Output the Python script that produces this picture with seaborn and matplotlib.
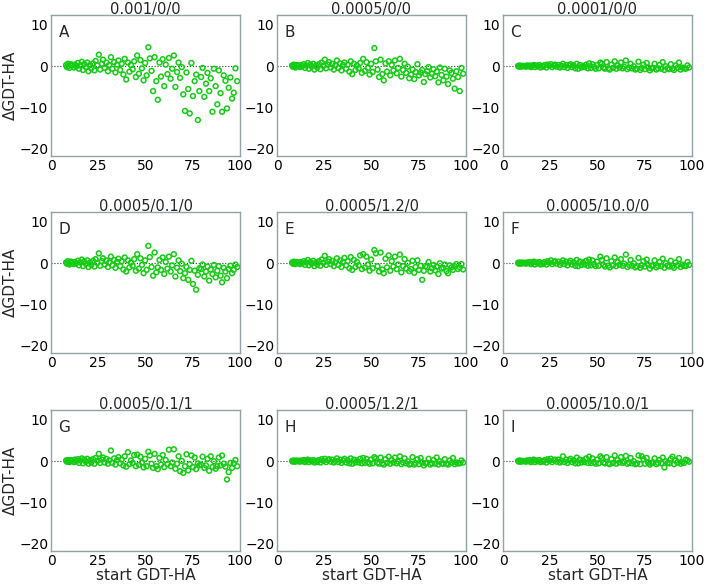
import numpy as np
import pandas as pd
import seaborn as sns
import matplotlib.pyplot as plt

# start GDT-HA of the models (same set in every panel)
start_gdt = [8.0, 8.4, 8.9, 9.3, 9.7, 10.5, 11.3, 12.1, 12.6, 13.4,
             14.2, 14.8, 15.5, 16.3, 16.9, 17.6, 18.4, 19.2, 19.8, 20.7,
             21.3, 22.2, 23.0, 23.6, 24.5, 25.3, 26.0, 26.9, 27.5, 28.4,
             29.3, 30.1, 30.8, 31.7, 32.5, 33.4, 34.1, 35.0, 35.7, 36.6,
             37.4, 38.3, 39.0, 39.8, 40.7, 41.5, 42.3, 43.2, 44.0, 44.9,
             45.6, 46.5, 47.3, 48.1, 49.0, 49.8, 50.6, 51.5, 52.3, 53.2,
             54.0, 54.8, 55.7, 56.5, 57.4, 58.2, 59.1, 59.9, 60.7, 61.6,
             62.4, 63.3, 64.1, 65.0, 65.8, 66.7, 67.5, 68.3, 69.2, 70.0,
             70.9, 71.7, 72.6, 73.4, 74.3, 75.1, 76.0, 76.8, 77.7, 78.5,
             79.4, 80.2, 81.1, 82.0, 82.8, 83.7, 84.5, 85.4, 86.2, 87.1,
             88.0, 88.8, 89.7, 90.5, 91.4, 92.3, 93.1, 94.0, 94.9, 95.8,
             96.7, 97.6, 98.5]

titles = ["0.001/0/0", "0.0005/0/0", "0.0001/0/0",
          "0.0005/0.1/0", "0.0005/1.2/0", "0.0005/10.0/0",
          "0.0005/0.1/1", "0.0005/1.2/1", "0.0005/10.0/1"]
letters = ["A", "B", "C", "D", "E", "F", "G", "H", "I"]

dA = [0.3, -0.2, 0.6, 0.1, -0.4, 0.5, 0.2, -0.3, 0.4, 0.0,
      0.8, -0.6, 0.2, 1.1, -0.9, 0.5, -0.2, 0.9, -1.2, 0.3,
      -0.5, 0.7, -1.0, 1.3, 0.2, 2.8, -0.8, 0.6, 1.6, -0.4,
      0.9, -1.2, 0.3, 2.2, -0.6, 1.0, -1.5, 0.4, 1.4, -0.9,
      0.6, -2.0, 1.8, -3.2, 0.9, -1.3, 0.3, -0.7, 1.2, -2.6,
      2.6, -1.8, 1.5, -0.5, -3.4, 0.8, -2.2, 4.6, 1.9, -1.1,
      -6.0, 2.2, -3.6, -8.1, 0.9, -2.5, 1.7, -4.8, 0.4, -1.9,
      2.0, -3.0, -0.6, 2.6, -5.0, -1.4, 0.9, -2.8, -0.2, -6.8,
      -10.8, -1.5, -5.5, -11.4, 0.8, -7.2, -3.6, -2.0, -13.0, -6.0,
      -2.6, -0.4, -7.4, -4.2, -1.6, -6.0, -2.9, -11.0, -0.6, -4.8,
      -9.2, -1.0, -6.5, -11.0, -2.2, -3.5, -10.2, -5.2, -2.7, -7.8,
      -6.4, -0.5, -3.6]
dB = [0.2, -0.1, 0.4, 0.0, -0.3, 0.3, 0.1, -0.2, 0.3, 0.0,
      0.5, -0.4, 0.2, 0.8, -0.6, 0.4, -0.1, 0.6, -0.8, 0.2,
      -0.3, 0.5, -0.7, 0.9, 0.1, 1.6, -0.5, 0.4, 1.0, -0.3,
      0.6, -0.8, 0.2, 1.4, -0.4, 0.7, -1.0, 0.3, 0.9, -0.6,
      0.4, -1.3, 1.2, -1.9, 0.6, -0.9, 0.2, -0.5, 0.8, -1.6,
      1.8, -1.1, 1.0, -0.4, -2.0, 0.6, -1.4, 4.4, 1.2, -0.8,
      -2.6, 1.6, -1.9, -3.4, 0.7, -1.3, 1.2, -2.2, 0.3, -1.0,
      1.4, -1.7, -0.4, 1.8, -2.5, -0.9, 0.6, -1.6, -0.1, -2.9,
      -2.0, -0.8, -3.1, -1.4, 0.5, -2.2, -1.5, -0.9, -3.8, -1.9,
      -1.2, -0.2, -2.7, -1.8, -0.7, -2.4, -1.3, -3.9, -0.3, -2.1,
      -3.4, -0.6, -2.5, -4.3, -1.0, -1.6, -3.0, -5.4, -1.2, -2.6,
      -6.0, -0.4, -1.8]
dC = [0.1, -0.1, 0.2, 0.0, -0.1, 0.1, 0.0, -0.1, 0.2, 0.0,
      0.2, -0.2, 0.1, 0.3, -0.2, 0.2, 0.0, 0.3, -0.3, 0.1,
      -0.1, 0.3, -0.3, 0.4, 0.1, 0.5, -0.2, 0.2, 0.4, -0.1,
      0.3, -0.3, 0.1, 0.6, -0.2, 0.3, -0.4, 0.2, 0.5, -0.2,
      0.2, -0.5, 0.6, -0.6, 0.3, -0.3, 0.1, -0.2, 0.4, -0.5,
      0.7, -0.4, 0.5, -0.1, -0.6, 0.3, -0.5, 0.9, 0.6, -0.3,
      -0.6, 1.0, -0.5, -0.8, 0.4, -0.4, 1.2, -0.6, 0.2, -0.3,
      0.9, -0.5, -0.1, 1.4, -0.7, -0.3, 0.6, -0.5, 0.0, -0.8,
      -0.6, 1.1, -0.9, -0.4, 0.4, -0.7, 0.8, -0.3, -1.0, -0.5,
      -0.4, 0.6, -0.8, -0.5, 0.3, -0.6, 1.0, -0.9, 0.0, -0.5,
      -0.7, 0.5, -0.6, -0.9, 0.2, -0.4, 0.9, -0.8, -0.3, -0.5,
      -0.6, 0.2, -0.3]
dD = [0.2, -0.1, 0.5, 0.0, -0.3, 0.4, 0.1, -0.2, 0.3, 0.0,
      0.6, -0.5, 0.2, 0.9, -0.7, 0.4, -0.1, 0.7, -0.9, 0.2,
      -0.4, 0.6, -0.8, 1.0, 0.1, 2.4, -0.6, 0.5, 1.2, -0.3,
      0.7, -0.9, 0.2, 1.6, -0.5, 0.8, -1.1, 0.3, 1.1, -0.7,
      0.5, -1.5, 1.4, -2.0, 0.7, -1.0, 0.2, -0.6, 1.0, -1.8,
      2.2, -1.3, 1.2, -0.4, -2.4, 0.7, -1.6, 4.2, 1.5, -0.9,
      -3.0, 2.6, -2.2, -1.0, 0.8, -1.6, 1.4, -2.6, 0.3, -1.3,
      1.6, -2.0, -0.5, 2.2, -3.2, -1.1, 0.7, -1.9, -0.1, -3.6,
      -2.4, -0.9, -4.0, -1.6, 0.6, -5.0, -1.8, -6.4, -2.8, -1.2,
      -1.4, -0.3, -3.2, -2.0, -0.8, -4.2, -1.5, -2.6, -0.4, -3.4,
      -1.8, -0.7, -3.0, -4.6, -1.1, -2.0, -3.6, -1.4, -0.6, -2.4,
      -1.6, -0.3, -0.9]
dE = [0.2, -0.1, 0.4, 0.0, -0.2, 0.3, 0.1, -0.2, 0.3, 0.0,
      0.5, -0.4, 0.2, 0.8, -0.5, 0.3, -0.1, 0.6, -0.7, 0.2,
      -0.3, 0.5, -0.6, 0.9, 0.1, 1.8, -0.4, 0.4, 1.0, -0.2,
      0.6, -0.7, 0.2, 1.2, -0.4, 0.7, -0.9, 0.3, 1.3, -0.5,
      0.5, -1.2, 1.5, -1.6, 0.8, -0.9, 0.3, -0.5, 1.9, -1.4,
      2.2, -1.0, 1.6, -0.3, -1.8, 0.9, -1.2, 3.2, 2.4, -0.7,
      -2.0, 2.6, -1.5, -2.4, 1.1, -1.0, 1.9, -1.8, 0.5, -0.8,
      1.6, -1.4, -0.3, 2.1, -2.2, -0.7, 1.0, -1.3, 0.1, -1.9,
      -1.4, 0.6, -2.3, -0.9, 0.7, -1.6, -0.6, -4.0, -1.8, -0.7,
      -0.9, 0.3, -2.0, -1.2, -0.4, -1.7, -0.8, -2.6, 0.0, -1.3,
      -1.1, -0.3, -1.9, -2.4, -0.5, -1.0, -1.6, -0.7, -0.2, -1.4,
      -1.0, -0.2, -1.5]
dF = [0.1, -0.1, 0.2, 0.0, -0.1, 0.2, 0.0, -0.1, 0.2, 0.0,
      0.3, -0.2, 0.1, 0.4, -0.3, 0.2, 0.0, 0.3, -0.3, 0.1,
      -0.2, 0.3, -0.3, 0.5, 0.1, 0.7, -0.2, 0.3, 0.5, -0.1,
      0.4, -0.4, 0.1, 0.7, -0.2, 0.4, -0.5, 0.2, 0.6, -0.3,
      0.3, -0.6, 0.8, -0.7, 0.4, -0.4, 0.2, -0.3, 0.6, -0.6,
      0.9, -0.5, 0.7, -0.2, -0.7, 0.4, -0.6, 1.6, 0.8, -0.4,
      -0.8, 1.2, -0.6, -1.0, 0.5, -0.5, 1.4, -0.7, 0.3, -0.4,
      1.0, -0.6, -0.1, 2.1, -0.9, -0.4, 0.8, -0.6, 0.0, -1.0,
      -0.7, 1.3, -1.1, -0.5, 0.5, -0.8, 0.9, -0.4, -1.3, -0.6,
      -0.5, 0.7, -1.0, -0.6, 0.3, -0.7, 1.1, -1.1, 0.0, -0.6,
      -0.8, 0.6, -0.7, -1.1, 0.2, -0.5, 1.0, -0.9, -0.3, -0.6,
      -0.7, 0.3, -0.4]
dG = [0.2, -0.1, 0.3, 0.0, -0.2, 0.3, 0.1, -0.2, 0.4, 0.0,
      0.5, -0.4, 0.2, 0.7, -0.5, 0.4, -0.1, 0.6, -0.6, 0.2,
      -0.3, 0.5, -0.6, 0.8, 0.1, 1.8, -0.4, 0.4, 0.9, -0.3,
      0.6, -0.6, 0.2, 2.6, -0.4, 0.7, -0.8, 0.3, 1.0, -0.5,
      0.4, -1.0, 1.2, -1.3, 2.2, -0.7, 0.2, -0.4, 1.5, -1.2,
      1.6, -0.9, 1.1, -0.3, -1.5, 0.6, -1.2, 2.3, 1.4, -0.6,
      -1.6, 1.8, -1.2, -1.9, 0.8, -0.8, 1.5, -1.4, 0.3, -0.7,
      2.8, -1.2, -0.3, 2.9, -1.8, -0.6, 1.2, -2.4, 0.1, -2.8,
      -1.2, 1.7, -2.2, -0.7, 1.4, -1.4, 0.9, -1.9, -0.5, -1.0,
      -0.8, 1.1, -1.6, -1.0, 0.6, -2.3, 1.2, -1.4, 0.0, -1.8,
      -1.2, 0.9, -1.0, 1.4, -0.6, -1.3, -4.4, -2.6, -0.4, -1.6,
      -0.5, 0.3, -1.2]
dH = [0.1, -0.1, 0.2, 0.0, -0.1, 0.2, 0.0, -0.1, 0.2, 0.0,
      0.3, -0.2, 0.1, 0.4, -0.2, 0.2, 0.0, 0.3, -0.3, 0.1,
      -0.2, 0.3, -0.3, 0.5, 0.1, 0.6, -0.2, 0.3, 0.5, -0.1,
      0.4, -0.3, 0.1, 0.7, -0.2, 0.4, -0.4, 0.2, 0.6, -0.3,
      0.3, -0.5, 0.7, -0.6, 0.4, -0.3, 0.2, -0.3, 0.6, -0.5,
      0.8, -0.4, 0.6, -0.2, -0.6, 0.4, -0.5, 1.0, 0.7, -0.3,
      -0.6, 0.9, -0.5, -0.8, 0.5, -0.4, 1.1, -0.6, 0.3, -0.3,
      0.9, -0.5, -0.1, 1.2, -0.7, -0.3, 0.7, -0.5, 0.0, -0.8,
      -0.6, 1.0, -0.8, -0.4, 0.5, -0.7, 0.8, -0.3, -1.0, -0.5,
      -0.4, 0.6, -0.8, -0.5, 0.3, -0.6, 0.9, -0.8, 0.0, -0.5,
      -0.6, 0.5, -0.6, -0.8, 0.2, -0.4, 0.8, -0.7, -0.3, -0.5,
      -0.5, 0.2, -0.3]
dI = [0.1, -0.1, 0.2, 0.0, -0.1, 0.1, 0.0, -0.1, 0.2, 0.0,
      0.3, -0.2, 0.1, 0.4, -0.2, 0.2, 0.0, 0.3, -0.2, 0.1,
      -0.1, 0.3, -0.3, 0.5, 0.1, 0.6, -0.2, 0.3, 0.4, -0.1,
      0.4, -0.3, 0.1, 1.2, -0.2, 0.4, -0.4, 0.2, 0.6, -0.2,
      0.3, -0.5, 0.9, -0.5, 0.4, -0.3, 0.2, -0.2, 0.7, -0.4,
      1.1, -0.4, 0.7, -0.2, -0.6, 0.4, -0.5, 1.2, 0.8, -0.3,
      -0.5, 1.0, -0.5, -0.7, 0.5, -0.4, 1.4, -0.6, 0.3, -0.3,
      1.0, -0.4, -0.1, 1.3, -0.6, -0.3, 0.8, -0.5, 0.0, -0.7,
      -0.5, 1.4, -0.7, 1.2, 0.5, -0.6, 0.8, -0.3, -0.8, -0.4,
      -0.3, 0.7, -0.7, -0.4, 0.3, -0.5, 0.9, -1.5, 0.0, -0.4,
      -0.5, 0.6, 1.1, -0.7, 0.2, -0.3, 0.8, -0.6, -0.2, -0.4,
      0.4, 0.2, -0.1]

deltas = [dA, dB, dC, dD, dE, dF, dG, dH, dI]

sns.set_style("white")
plt.rcParams['font.family'] = ['DejaVu Sans']
plt.rcParams['font.size'] = 10

fig = plt.figure(figsize=(7.08, 5.85), dpi=100)

lefts = [51, 277, 503]
tops = [15, 212, 410]
W, H = 189, 141
spine_col = '#8fa3a8'

for i in range(9):
    r, c = divmod(i, 3)
    ax = fig.add_axes([lefts[c] / 708, 1 - (tops[r] + H) / 585, W / 708, H / 585])
    df = pd.DataFrame({"start": start_gdt, "delta": deltas[i]})
    ax.axhline(0, color='#333333', lw=0.8, ls=':', zorder=1)
    sns.scatterplot(data=df, x="start", y="delta", ax=ax, marker='o', s=12,
                    facecolor='none', edgecolor='#14cc14', linewidth=1.1,
                    zorder=2)
    ax.set_xlim(0, 100)
    ax.set_ylim(-21.7, 12.4)
    ax.set_xticks([0, 25, 50, 75, 100])
    ax.set_yticks([10, 0, -10, -20])
    ax.tick_params(length=0, pad=2, labelsize=10, colors='black')
    for sp in ax.spines.values():
        sp.set_color(spine_col)
        sp.set_linewidth(1.0)
    ax.set_title(titles[i], fontsize=10.5, pad=1)
    ax.text(0.04, 0.93, letters[i], transform=ax.transAxes, fontsize=11,
            va='top', ha='left')
    ax.set_xlabel("start GDT-HA" if r == 2 else "", fontsize=11, labelpad=0)
    ax.set_ylabel("ΔGDT-HA" if c == 0 else "", fontsize=11)
    ax.yaxis.set_label_coords(-0.175, 0.5)

fig.savefig("out.png", dpi=100)
